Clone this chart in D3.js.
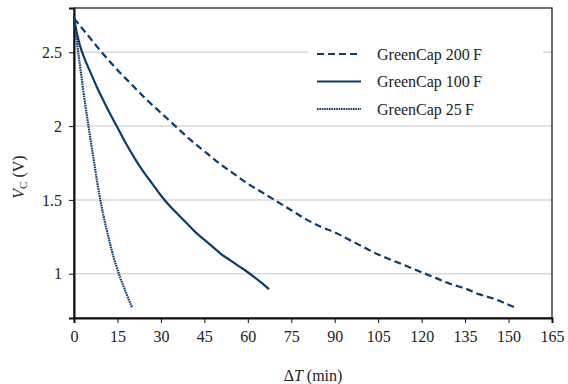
<!DOCTYPE html>
<html><head><meta charset="utf-8">
<script src="https://cdn.jsdelivr.net/npm/d3@7"></script>
<style>body{margin:0;background:#fff}svg{display:block}svg text{font-family:"Times New Roman","Liberation Serif",Times,"DejaVu Serif",serif !important;fill:#222}</style>
</head><body><svg id="c" width="568" height="384"></svg>
<script>
const xTicks=[0,15,30,45,60,75,90,105,120,135,150,165];
const yTicks=[1,1.5,2,2.5];
const seriesNames=["GreenCap 200\u2009F","GreenCap 100\u2009F","GreenCap 25\u2009F"];
const t200=[0,5,10,15,20,25,30,35,40,45,50,55,60,65,70,75,80,85,90,95,100,105,110,115,120,125,130,135,140,145,150,152.5];
const v200=[2.73,2.61,2.49,2.38,2.28,2.18,2.09,2.00,1.91,1.83,1.75,1.68,1.61,1.55,1.49,1.43,1.37,1.32,1.28,1.23,1.18,1.13,1.09,1.05,1.01,0.97,0.93,0.90,0.86,0.83,0.79,0.77];
const t100=[0,1,2,4,6,8,10,12,15,18,21,24,27,30,33,36,39,42,45,48,51,54,57,60,63,65,67.3];
const v100=[2.73,2.63,2.55,2.44,2.35,2.26,2.18,2.10,1.99,1.88,1.78,1.69,1.61,1.53,1.46,1.40,1.34,1.28,1.23,1.18,1.13,1.09,1.05,1.01,0.965,0.935,0.895];
const t25=[0,1,2,3,4,5,6,7,8,9,10,11,12,13,14,15,16,17,18,19,20.1];
const v25=[2.74,2.57,2.42,2.27,2.13,2.00,1.87,1.75,1.62,1.51,1.41,1.32,1.24,1.16,1.09,1.03,0.97,0.92,0.87,0.82,0.77];

const svg=d3.select("#c");
const L=74,R=552,T=8,B=318;
const x=d3.scaleLinear().domain([0,165]).range([L,R]);
const y=d3.scaleLinear().domain([0.7,2.8]).range([B,T]);
const col="#0b3b6f";

svg.append("g").selectAll("line").data(yTicks).join("line")
 .attr("x1",L).attr("x2",R).attr("y1",d=>y(d)).attr("y2",d=>y(d))
 .attr("stroke","#d9d9d9").attr("stroke-width",1.5);

svg.append("rect").attr("x",L).attr("y",T).attr("width",R-L).attr("height",B-T)
 .attr("fill","none").attr("stroke","#111").attr("stroke-width",1.2);

const xa=svg.append("g").attr("transform",`translate(0,${B})`)
 .call(d3.axisBottom(x).tickValues(xTicks).tickSize(5).tickPadding(8).tickFormat(d3.format("d")));
const ya=svg.append("g").attr("transform",`translate(${L},0)`)
 .call(d3.axisLeft(y).tickValues(yTicks).tickSize(5).tickPadding(7).tickFormat(d=>String(d)));
[xa,ya].forEach(a=>{a.attr("font-family",null);
 a.select(".domain").attr("stroke","#111").attr("stroke-width",2);
 a.selectAll(".tick line").attr("stroke","#111").attr("stroke-width",1);
 a.selectAll("text").attr("font-size",16).attr("fill","#222");});

const line=d3.line().x(d=>x(d[0])).y(d=>y(d[1])).curve(d3.curveMonotoneX);
const series=[
 {t:t200,v:v200,dash:"7,4"},
 {t:t100,v:v100,dash:null},
 {t:t25,v:v25,dash:"1.6,0.8"}
];
series.forEach(s=>{
 svg.append("path").datum(s.t.map((t,i)=>[t,s.v[i]])).attr("d",line)
  .attr("fill","none").attr("stroke",col).attr("stroke-width",2.2)
  .attr("stroke-dasharray",s.dash);
});

const lg=svg.append("g");
lg.append("rect").attr("x",308).attr("y",38).attr("width",235).attr("height",82).attr("fill","#fff");
seriesNames.forEach((n,i)=>{
 const yy=54+i*27.5;
 lg.append("line").attr("x1",317).attr("x2",361).attr("y1",yy).attr("y2",yy)
  .attr("stroke",col).attr("stroke-width",2.2).attr("stroke-dasharray",series[i].dash);
 lg.append("text").attr("x",377).attr("y",yy+5.5).attr("font-size",16).text(n);
});

const xl=svg.append("text").attr("x",313).attr("y",381).attr("text-anchor","middle").attr("font-size",16);
xl.append("tspan").text("\u0394");
xl.append("tspan").attr("font-style","italic").text("T");
xl.append("tspan").text(" (min)");
const yl=svg.append("text").attr("transform","translate(24,177) rotate(-90)").attr("text-anchor","middle").attr("font-size",16);
yl.append("tspan").attr("font-style","italic").text("V");
yl.append("tspan").attr("font-size",11).attr("dy",3).text("C");
yl.append("tspan").attr("dy",-3).text(" (V)");
</script></body></html>
